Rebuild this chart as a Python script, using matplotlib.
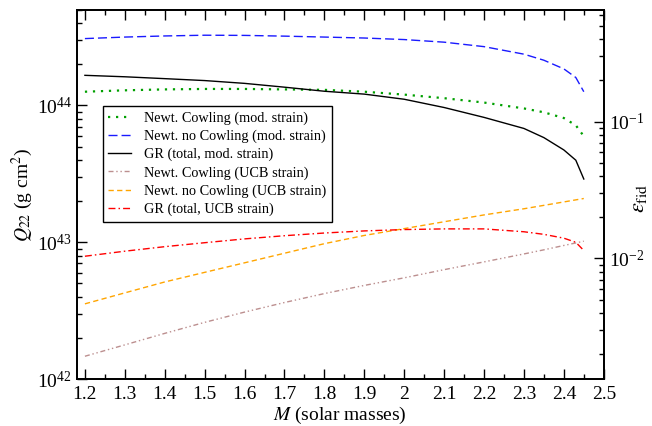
import matplotlib
matplotlib.use("Agg")
import matplotlib.pyplot as plt
from matplotlib.ticker import LogLocator, NullFormatter, MultipleLocator

plt.rcParams["font.family"] = ["Liberation Serif", "DejaVu Serif"]
plt.rcParams["mathtext.fontset"] = "stix"

# masa de la estrella (masas solares)
M = [1.2, 1.3, 1.4, 1.5, 1.6, 1.7, 1.8, 1.9, 2.0, 2.1, 2.2, 2.3, 2.35, 2.4, 2.43, 2.45]

# Q22 con deformacion modificada (1e44 g cm^2)
newt_cow_mod = [1.26, 1.29, 1.31, 1.32, 1.32, 1.31, 1.30, 1.26, 1.20, 1.13, 1.05, 0.951, 0.891, 0.809, 0.716, 0.596]
newt_nocow_mod = [3.08, 3.16, 3.22, 3.26, 3.25, 3.21, 3.16, 3.11, 3.03, 2.90, 2.69, 2.37, 2.14, 1.85, 1.60, 1.26]
gr_mod = [1.66, 1.62, 1.57, 1.52, 1.45, 1.36, 1.27, 1.21, 1.11, 0.966, 0.818, 0.679, 0.582, 0.473, 0.398, 0.290]

# Q22 con deformacion UCB (1e43 g cm^2)
newt_cow_ucb = [0.147, 0.178, 0.216, 0.260, 0.309, 0.363, 0.422, 0.484, 0.550, 0.631, 0.719, 0.822, 0.881, 0.948, 0.989, 1.019]
newt_nocow_ucb = [0.355, 0.427, 0.513, 0.603, 0.708, 0.832, 0.977, 1.122, 1.259, 1.413, 1.585, 1.758, 1.862, 1.972, 2.042, 2.089]
gr_ucb = [0.791, 0.861, 0.929, 0.993, 1.059, 1.117, 1.169, 1.211, 1.239, 1.253, 1.253, 1.194, 1.143, 1.072, 1.000, 0.871]

xticks = [1.2, 1.3, 1.4, 1.5, 1.6, 1.7, 1.8, 1.9, 2.0, 2.1, 2.2, 2.3, 2.4, 2.5]
xticklabels = ["1.2", "1.3", "1.4", "1.5", "1.6", "1.7", "1.8", "1.9", "2",
               "2.1", "2.2", "2.3", "2.4", "2.5"]

# relacion entre Q22 y la elipticidad fiducial
q_to_eps = 1 / 7.62e44

fig = plt.figure(figsize=(6.52, 4.26), dpi=100)
ax = fig.add_axes([0.118, 0.110, 0.808, 0.867])

ax.plot(M, [v * 1e44 for v in newt_cow_mod], color="#00a000", lw=1.6,
        dashes=(1.0, 2.6), label="Newt. Cowling (mod. strain)")
ax.plot(M, [v * 1e44 for v in newt_nocow_mod], color="#1a1aff", lw=1.0,
        dashes=(6.5, 2.9), label="Newt. no Cowling (mod. strain)")
ax.plot(M, [v * 1e44 for v in gr_mod], color="black", lw=1.0,
        label="GR (total, mod. strain)")
ax.plot(M, [v * 1e43 for v in newt_cow_ucb], color="#bc8f8f", lw=1.0,
        dashes=(3.6, 2, 1, 2, 1, 2), label="Newt. Cowling (UCB strain)")
ax.plot(M, [v * 1e43 for v in newt_nocow_ucb], color="#ffa500", lw=1.0,
        dashes=(3.8, 2.4), label="Newt. no Cowling (UCB strain)")
ax.plot(M, [v * 1e43 for v in gr_ucb], color="#ff0000", lw=1.0,
        dashes=(5, 2.2, 1.1, 2.2), label="GR (total, UCB strain)")

ax.set_yscale("log")
ax.set_xlim(1.18, 2.5)
ax.set_ylim(1e42, 5e44)
ax.set_xticks(xticks)
ax.set_xticklabels(xticklabels)
ax.xaxis.set_minor_locator(MultipleLocator(0.05))
ax.yaxis.set_major_locator(LogLocator(base=10))
ax.yaxis.set_minor_locator(LogLocator(base=10, subs=range(2, 10)))
ax.yaxis.set_minor_formatter(NullFormatter())
ax.tick_params(which="both", direction="in", top=True, right=False, labelsize=14)
ax.tick_params(which="major", length=7, width=1.0)
ax.tick_params(which="minor", length=3.5, width=1.0)
ax.tick_params(axis="x", pad=5)
for s in ax.spines.values():
    s.set_linewidth(1.3)

ax.set_xlabel(r"$M$ (solar masses)", fontsize=14, labelpad=1)
ax.set_ylabel(r"$Q_{22}$ (g cm$^2$)", fontsize=14, labelpad=0)
ax.yaxis.set_label_coords(-0.08, 0.5)

# eje derecho: elipticidad
ax2 = ax.twinx()
ax2.set_yscale("log")
ax2.set_ylim(1e42 * q_to_eps, 5e44 * q_to_eps)
ax2.yaxis.set_major_locator(LogLocator(base=10))
ax2.yaxis.set_minor_locator(LogLocator(base=10, subs=range(2, 10)))
ax2.yaxis.set_minor_formatter(NullFormatter())
ax2.tick_params(which="both", direction="in", labelsize=14)
ax2.tick_params(which="major", length=7, width=1.0)
ax2.tick_params(which="minor", length=3.5, width=1.0)
for s in ax2.spines.values():
    s.set_linewidth(1.3)
fig.text(0.996, 0.535, r"$\varepsilon_{\rm fid}$", fontsize=16, rotation=90,
         ha="right", va="center")

leg = ax.legend(loc="upper left", bbox_to_anchor=(0.049, 0.740), borderaxespad=0,
                fontsize=10.3, handlelength=1.6, handletextpad=0.9, labelspacing=0.33,
                fancybox=False, framealpha=1, edgecolor="black", borderpad=0.4)
leg.get_frame().set_linewidth(1.0)

fig.savefig("out.png", dpi=100)
